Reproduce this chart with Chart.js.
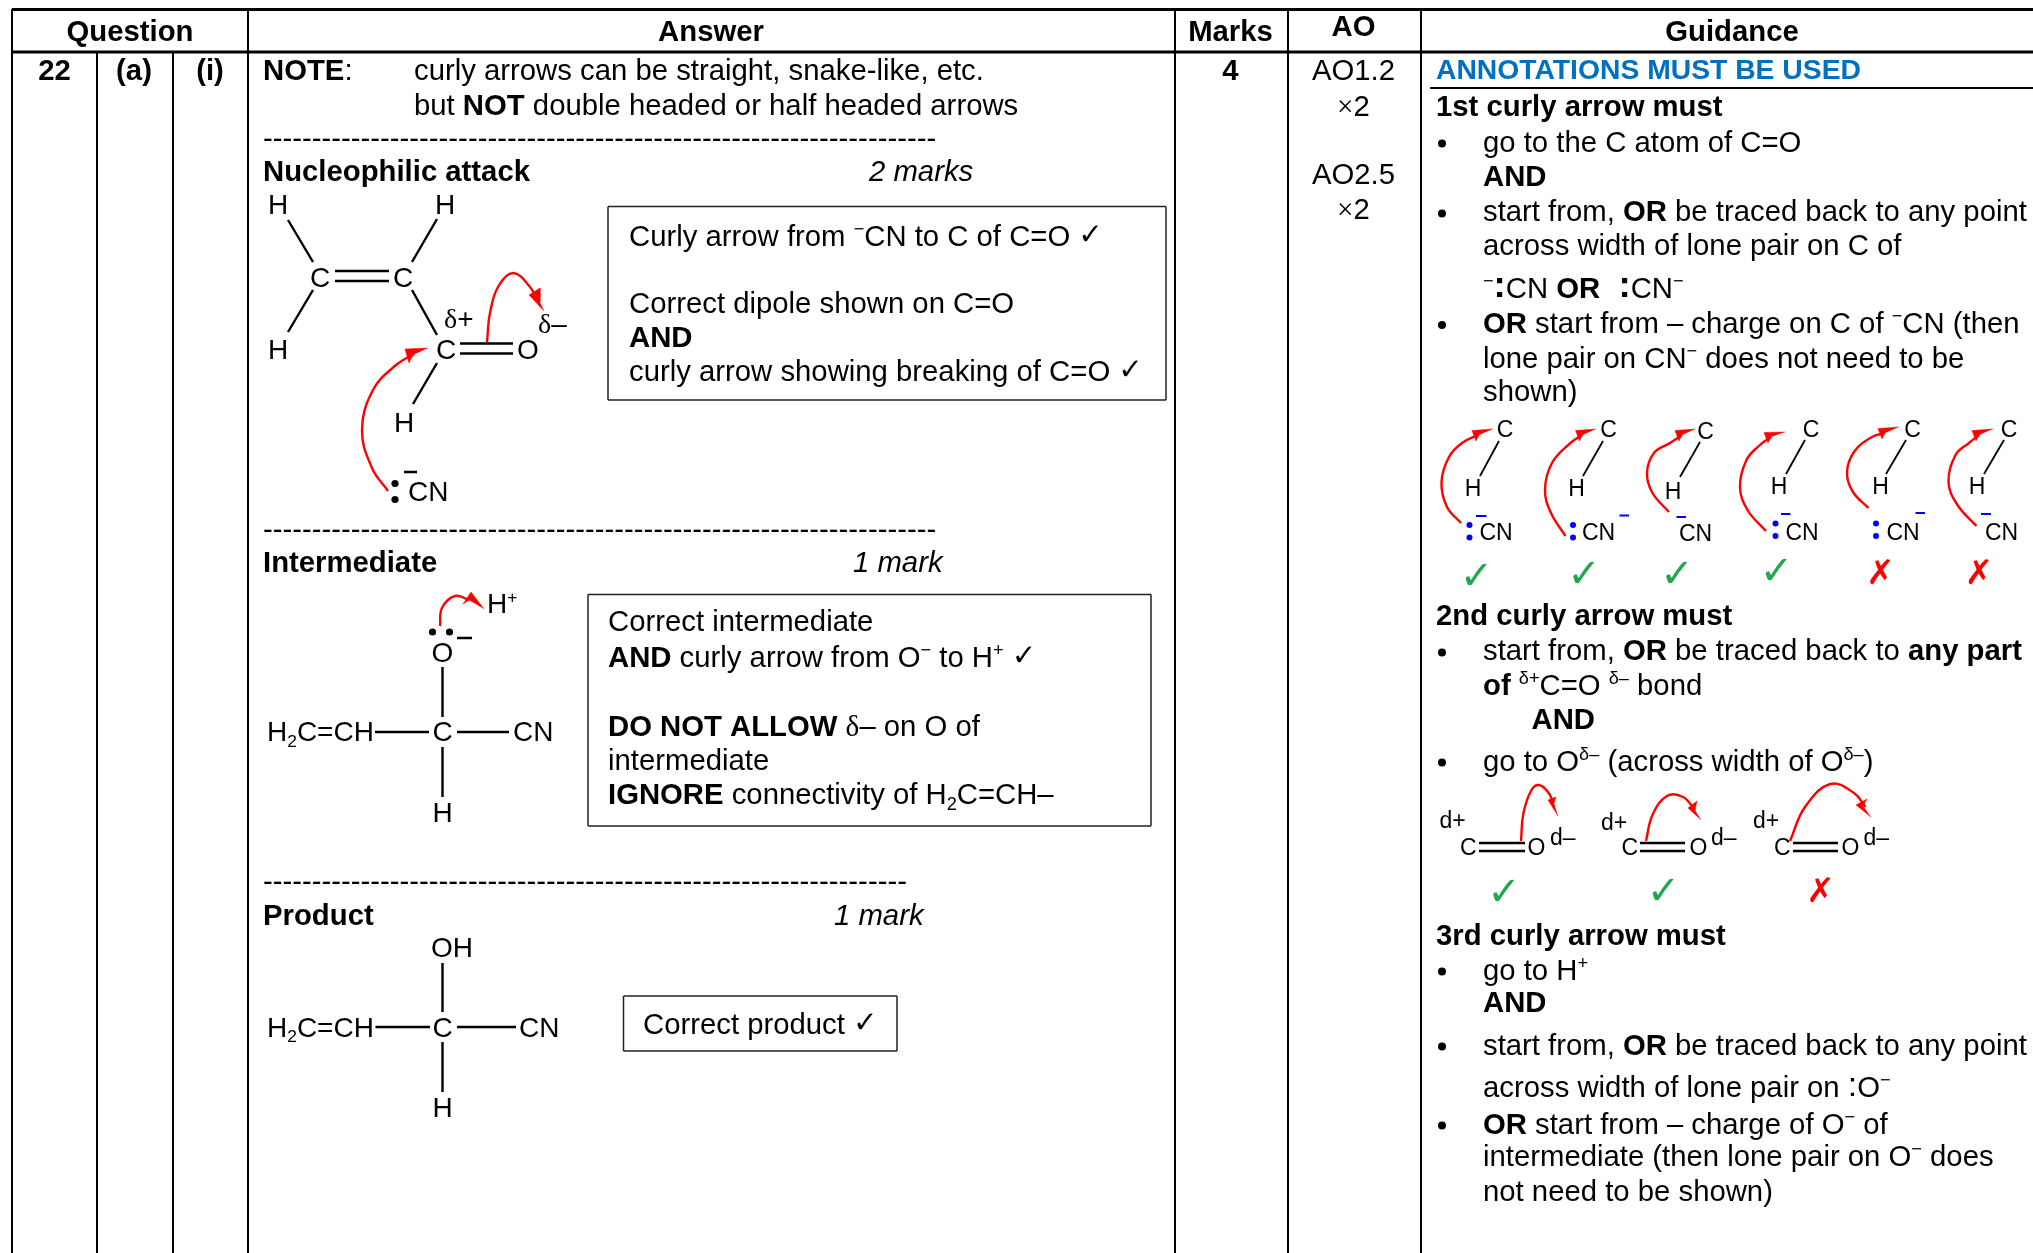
<!DOCTYPE html>
<html><head><meta charset="utf-8">
<style>html,body{margin:0;padding:0;background:#fff}canvas{display:block}</style>
<script src="https://cdn.jsdelivr.net/npm/chart.js@4"></script>
</head><body><canvas id="c" width="2033" height="1253"></canvas>
<script>
// Axis domain equals the page, so every value below is read straight off the reference.
const domainX = [0, 2033], domainY = [0, 1253];

// ---- table and box rules: [x1,y1,x2,y2]
const heavyRules = [[12,9.5,2033,9.5],[12,52,2033,52]];
const cellRules = [[12,9,12,1253],[97,52,97,1253],[173,52,173,1253],[248,9,248,1253],[1175,9,1175,1253],[1288,9,1288,1253],[1421,9,1421,1253],[1430,88,2033,88]];
const boxRules = [[608,206.5,1166,206.5],[608,400,1166,400],[608,206.5,608,400],[1166,206.5,1166,400],
  [588,594.5,1151,594.5],[588,826,1151,826],[588,594.5,588,826],[1151,594.5,1151,826],
  [623.5,996,897,996],[623.5,1051,897,1051],[623.5,996,623.5,1051],[897,996,897,1051]];

// ---- molecule bonds: [x1,y1,x2,y2]
const bondsMain = [[288,220,313,262],[437,219,412,262],[313,290,288,332],[335,271,389,271],[335,281,389,281],[412,290,437,335],
  [460,343.5,513,343.5],[460,353.5,513,353.5],[437,363,413,404],[404,472,417,472],
  [457,638,472,638],[442.5,667,442.5,717],[375,732,429,732],[457,732,509,732],[442.5,747,442.5,797],
  [442.5,963,442.5,1012],[375.5,1027,430,1027],[457,1027,516,1027],[442.5,1042,442.5,1092]];
const bondsSmall = [[1499,441,1480,476],[1603,441,1583,476],[1700,442,1680,477],[1805,440,1786,474],[1906,440,1886,474],[2004,440,1984,474]];
const doubleBondsSmall = [[1479,843,1525,843],[1479,851,1525,851],[1640,843,1685,843],[1640,851,1685,851],[1793,843,1838,843],[1793,851,1838,851]];
const blueMinus = [[1476,516,1486.5,516],[1619.5,515.5,1629,515.5],[1676.5,517,1686,517],[1781,514,1790.5,514],[1915.5,513,1925,513],[1981,514,1991,514]];

// ---- dots
const blackDots = [[395,483.5],[395,499.5],[432.5,632],[449.5,632]];
const blueDots = [[1469.5,525],[1469.5,537.5],[1573,525],[1573,537.5],[1775.5,523.5],[1775.5,536],[1876,523.5],[1876,536]];
const bullets = [[1442,143.5],[1442,213.5],[1442,325],[1442,652.5],[1442,762.5],[1442,971.5],[1442,1046.5],[1442,1125.5]];

// ---- curly arrows: points along the shaft, then head polygon
const curlyArrows = [
 {shaft:[[388,491],[372,468],[362,430],[373,390],[396,365],[414,354]], head:[[428,348],[405,349],[409,363],[413,355]]},
 {shaft:[[487,342],[490,313],[498,287],[513,273],[530,287],[539,303]], head:[[544,311],[529,295],[540,288],[540,302]]},
 {shaft:[[440,626],[442,608],[455,596],[469,600]], head:[[484,609],[471,592],[463,604],[469,600]]},
 {shaft:[[1461,523],[1447,507],[1441.5,482],[1449,457],[1462,443],[1478,435]], head:[[1493,429],[1472,430.5],[1476,441],[1479,435]]},
 {shaft:[[1565.5,536],[1551,513],[1545,490],[1552,463],[1570.5,443],[1582,435]], head:[[1596,429],[1575.5,430.5],[1579.5,441],[1582.5,435]]},
 {shaft:[[1669,512],[1652.5,493],[1647,473],[1654,453],[1670,443],[1682,435]], head:[[1695.5,429],[1675,430.5],[1679,441],[1682,435]]},
 {shaft:[[1766,531],[1747.5,510],[1740,487],[1746.5,460],[1760,445],[1771,437]], head:[[1785,432],[1764,432.5],[1768,443],[1771,437]]},
 {shaft:[[1868.5,508],[1853,492],[1847,473],[1854,452],[1872,437],[1885,433]], head:[[1899,427],[1878,428.5],[1882,439],[1885,433]]},
 {shaft:[[1976.5,526],[1957.5,505],[1948.5,482],[1955.5,455],[1969,443],[1979,435]], head:[[1993,429],[1972,430.5],[1976,441],[1979,435]]},
 {shaft:[[1521,841],[1523.5,813],[1531.5,790],[1539,785],[1548,792],[1553.5,803]], head:[[1558,816],[1548,800],[1556,797],[1554,803]]},
 {shaft:[[1646,841],[1652.5,815],[1667,796],[1683,797],[1695,810]], head:[[1701,820],[1688,808],[1697,801],[1695,810]]},
 {shaft:[[1790,841],[1805,807],[1830.5,784],[1854,793],[1865.5,807]], head:[[1871,817],[1856,805],[1867,799],[1863,806]]}
];

// ---- text: [x, baseline, markup, size key, align]
// markup: {b|bold} {i|italic} {u|superscript} {d|subscript} {g|serif delta} {t|tick} {c|big colon} {l|light colon}
const headerText = [[130,40.5,'{b|Question}','body','center'],[711,40.5,'{b|Answer}','body','center'],[1230.5,40.5,'{b|Marks}','body','center'],[1353.5,36,'{b|AO}','body','center'],[1732,40.5,'{b|Guidance}','body','center']];
const questionText = [[54.5,79.5,'{b|22}','body','center'],[134,79.5,'{b|(a)}','body','center'],[210,79.5,'{b|(i)}','body','center'],[1230.5,79.5,'{b|4}','body','center'],
  [1353.5,79.5,'AO1.2','body','center'],[1353.5,116,'{g|×}2','body','center'],[1353.5,183.5,'AO2.5','body','center'],[1353.5,219,'{g|×}2','body','center']];
const answerText = [
 [263,79.5,'{b|NOTE}:','body'],[414,79.5,'curly arrows can be straight, snake-like, etc.','body'],[414,115,'but {b|NOT} double headed or half headed arrows','body'],
 [263,148,'-'.repeat(69),'body'],[263,181,'{b|Nucleophilic attack}','body'],[869,181,'{i|2 marks}','body'],
 [629,245.5,'Curly arrow from {u|−}CN to C of C=O {t|✓}','body'],[629,312.5,'Correct dipole shown on C=O','body'],[629,346.5,'{b|AND}','body'],[629,380.5,'curly arrow showing breaking of C=O {t|✓}','body'],
 [263,539,'-'.repeat(69),'body'],[263,572,'{b|Intermediate}','body'],[853,572,'{i|1 mark}','body'],
 [608,631,'Correct intermediate','body'],[608,667,'{b|AND} curly arrow from O{u|−} to H{u|+} {t|✓}','body'],[608,736,'{b|DO NOT ALLOW} {g|δ}– on O of','body'],[608,770,'intermediate','body'],[608,804,'{b|IGNORE} connectivity of H{d|2}C=CH–','body'],
 [263,891,'-'.repeat(66),'body'],[263,925,'{b|Product}','body'],[834,925,'{i|1 mark}','body'],[643,1034,'Correct product {t|✓}','body']];
const moleculeText = [
 [278,214,'H','mol','center'],[445,214,'H','mol','center'],[320,287,'C','mol','center'],[403,287,'C','mol','center'],[278,359,'H','mol','center'],[446,359,'C','mol','center'],[528,359,'O','mol','center'],
 [444,328,'{g|δ}+','mol'],[538,333,'{g|δ}–','mol'],[404,432,'H','mol','center'],[408,501,'CN','mol'],
 [487,613,'H{u|+}','mol'],[442.5,662,'O','mol','center'],[267,741,'H{d|2}C=CH','mol'],[442.5,741,'C','mol','center'],[513,741,'CN','mol'],[442.5,822,'H','mol','center'],
 [431,957,'OH','mol'],[267,1036.5,'H{d|2}C=CH','mol'],[442.5,1036.5,'C','mol','center'],[519,1036.5,'CN','mol'],[442.5,1117,'H','mol','center']];
const guidanceText = [
 [1436,116,'{b|1st curly arrow must}','body'],[1483,152,'go to the C atom of C=O','body'],[1483,186,'{b|AND}','body'],
 [1483,220.5,'start from, {b|OR} be traced back to any point','body'],[1483,255,'across width of lone pair on C of','body'],
 [1483,297.5,'{u|−}{c|:}CN {b|OR} {c| :}CN{u|−}','body'],[1483,333,'{b|OR} start from – charge on C of {u|−}CN (then','body'],[1483,367.5,'lone pair on CN{u|−} does not need to be','body'],[1483,401,'shown)','body'],
 [1436,625,'{b|2nd curly arrow must}','body'],[1483,660,'start from, {b|OR} be traced back to {b|any part}','body'],[1483,695,'{b|of} {u|δ+}C=O {u|δ–} bond','body'],[1531.5,728.5,'{b|AND}','body'],[1483,770.5,'go to O{u|δ–} (across width of O{u|δ–})','body'],
 [1436,945,'{b|3rd curly arrow must}','body'],[1483,979.5,'go to H{u|+}','body'],[1483,1012,'{b|AND}','body'],[1483,1055,'start from, {b|OR} be traced back to any point','body'],[1483,1097,'across width of lone pair on {l|:}O{u|−}','body'],
 [1483,1133.5,'{b|OR} start from – charge of O{u|−} of','body'],[1483,1166,'intermediate (then lone pair on O{u|−} does','body'],[1483,1201,'not need to be shown)','body']];
const smallStructureText = [
 [1505,437,'C','tiny','center'],[1473,496,'H','tiny','center'],[1479.5,540,'CN','tiny'],
 [1608.5,437,'C','tiny','center'],[1576.5,496,'H','tiny','center'],[1582,540,'CN','tiny'],
 [1705.5,438.5,'C','tiny','center'],[1673,498.5,'H','tiny','center'],[1679,540.5,'CN','tiny'],
 [1811,437,'C','tiny','center'],[1779,494,'H','tiny','center'],[1785.5,540,'CN','tiny'],
 [1912.5,437,'C','tiny','center'],[1880.5,494,'H','tiny','center'],[1886.5,540,'CN','tiny'],
 [2009,437,'C','tiny','center'],[1977,494,'H','tiny','center'],[1985,540,'CN','tiny'],
 [1439.5,828,'d+','tiny'],[1460,855,'C','tiny'],[1527.5,855,'O','tiny'],[1550,845,'d–','tiny'],
 [1601,830,'d+','tiny'],[1621.5,855,'C','tiny'],[1689.5,855,'O','tiny'],[1711,845,'d–','tiny'],
 [1753,828,'d+','tiny'],[1774,855,'C','tiny'],[1841.5,855,'O','tiny'],[1863.5,845,'d–','tiny']];
const annotationHeading = [[1436,78.5,'{b|ANNOTATIONS MUST BE USED}','heading']];
const tickMarks = [[1476.5,589],[1584,587],[1677,587],[1776.5,584],[1504,905],[1663.5,904]];
const crossMarks = [[1880.5,584],[1979,584],[1820.5,902]];

const SANS = '"Liberation Sans", Arial, sans-serif';
const SIZES = {body:29.3, heading:28.3, mol:28, tiny:23};
function segs(list){const o=[];list.forEach(s=>{o.push({x:s[0],y:s[1]},{x:s[2],y:s[3]},{x:null,y:null});});return o;}
const pts = l => l.map(p=>({x:p[0],y:p[1]}));
function lineSet(list,w,color){return {data:segs(list),showLine:true,borderColor:color,borderWidth:w,pointRadius:0,spanGaps:false,tension:0,fill:false};}
function dotSet(list,r,color){return {data:pts(list),showLine:false,pointRadius:r,pointBackgroundColor:color,pointBorderWidth:0};}

const datasets = [
 lineSet(heavyRules,3,'#000'),lineSet(cellRules,2,'#000'),lineSet(boxRules,1.5,'#222'),
 lineSet(bondsMain,2.4,'#000'),lineSet(bondsSmall,1.8,'#000'),lineSet(doubleBondsSmall,2.4,'#000'),lineSet(blueMinus,2,'#0000ff'),
 dotSet(blackDots,3.6,'#000'),dotSet(blueDots,3,'#0000ff'),dotSet(bullets,4,'#000')
];
curlyArrows.forEach(a=>{
 datasets.push({data:pts(a.shaft),showLine:true,borderColor:'#ff0000',borderWidth:2.4,pointRadius:0,tension:0.4,fill:false});
 datasets.push({data:pts(a.head),showLine:true,borderColor:'#ff0000',borderWidth:0.5,backgroundColor:'#ff0000',pointRadius:0,tension:0,fill:'shape'});
});

function parseMarkup(s){const out=[];const re=/\{([biudgtcl])\|([^}]*)\}/g;let i=0,m;
 while((m=re.exec(s))){if(m.index>i)out.push(['r',s.slice(i,m.index)]);out.push([m[1],m[2]]);i=m.index+m[0].length;}
 if(i<s.length)out.push(['r',s.slice(i)]);return out;}
function runFont(k,sz){switch(k){
 case 'b':return ['bold '+sz+'px '+SANS,0];
 case 'i':return ['italic '+sz+'px '+SANS,0];
 case 'u':return [(sz*0.62)+'px '+SANS,-sz*0.36];
 case 'd':return [(sz*0.62)+'px '+SANS,sz*0.2];
 case 'g':return [sz+'px "Liberation Serif", serif',0];
 case 't':return [sz+'px "DejaVu Sans", sans-serif',-2];
 case 'c':return ['bold '+(sz*1.25)+'px '+SANS,-1];
 case 'l':return [(sz*1.15)+'px '+SANS,-1];
 default:return [sz+'px '+SANS,0];}}
function drawLine(ctx,x,y,row,color){
 const sz=SIZES[row[3]],runs=parseMarkup(row[2]),al=row[4]||'left';
 let w=0;runs.forEach(r=>{ctx.font=runFont(r[0],sz)[0];w+=ctx.measureText(r[1]).width;});
 let cx=al==='center'?x-w/2:x;ctx.fillStyle=color;ctx.textAlign='left';ctx.textBaseline='alphabetic';
 runs.forEach(r=>{const f=runFont(r[0],sz);ctx.font=f[0];ctx.fillText(r[1],cx,y+f[1]);cx+=ctx.measureText(r[1]).width;});}

const textPlugin={id:'pageText',afterDatasetsDraw(chart){
 const ctx=chart.ctx,X=chart.scales.x,Y=chart.scales.y;ctx.save();
 const put=(rows,color)=>rows.forEach(r=>drawLine(ctx,X.getPixelForValue(r[0]),Y.getPixelForValue(r[1]),r,color));
 put(headerText,'#000');put(questionText,'#000');put(answerText,'#000');put(moleculeText,'#000');put(guidanceText,'#000');put(smallStructureText,'#000');put(annotationHeading,'#0070c0');
 ctx.textAlign='center';
 ctx.font='40px "DejaVu Sans", sans-serif';ctx.fillStyle='#22a650';
 tickMarks.forEach(p=>ctx.fillText('✓',X.getPixelForValue(p[0]),Y.getPixelForValue(p[1])));
 ctx.fillStyle='#ff0000';ctx.font='bold 34px "DejaVu Sans", sans-serif';
 crossMarks.forEach(p=>ctx.fillText('✗',X.getPixelForValue(p[0]),Y.getPixelForValue(p[1])));
 ctx.restore();}};

new Chart(document.getElementById('c'),{type:'scatter',data:{datasets},plugins:[textPlugin],options:{
 responsive:false,animation:false,events:[],clip:false,layout:{padding:0,autoPadding:false},
 plugins:{legend:{display:false},title:{display:false},tooltip:{enabled:false}},
 scales:{x:{type:'linear',display:false,min:domainX[0],max:domainX[1]},y:{type:'linear',display:false,reverse:true,min:domainY[0],max:domainY[1]}}
}});
</script></body></html>
